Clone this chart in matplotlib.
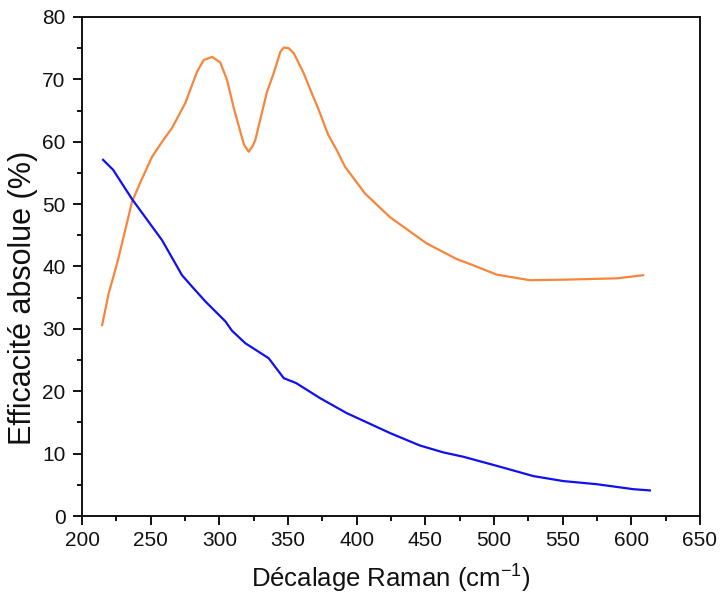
import matplotlib
matplotlib.use("Agg")
import matplotlib.pyplot as plt
from matplotlib.ticker import MultipleLocator

plt.rcParams['font.family'] = ['Liberation Sans', 'DejaVu Sans']
plt.rcParams['mathtext.fontset'] = 'custom'
plt.rcParams['mathtext.rm'] = 'Liberation Sans'
plt.rcParams['mathtext.it'] = 'Liberation Sans:italic'
plt.rcParams['mathtext.bf'] = 'Liberation Sans:bold'

# Blue curve
blue_x = [215.3, 222.6, 236.4, 258.3, 272.8, 280.0, 289.8, 304.4, 309.2, 318.9,
          335.9, 346.9, 356.0, 373.3, 392.7, 424.3, 446.1, 463.1, 477.7, 504.4,
          528.7, 550.5, 574.8, 601.5, 613.6]
blue_y = [57.1, 55.5, 50.8, 44.2, 38.6, 36.8, 34.4, 31.2, 29.7, 27.7,
          25.3, 22.1, 21.3, 18.9, 16.5, 13.3, 11.3, 10.2, 9.5, 7.9,
          6.4, 5.6, 5.1, 4.3, 4.1]

# Orange curve
orange_x = [214.6, 219.4, 225.5, 230.3, 236.4, 243.7, 251.0, 258.3, 265.5, 275.2,
            283.7, 288.6, 294.7, 300.7, 305.6, 310.5, 315.3, 318.0, 321.4, 324.5,
            326.2, 334.7, 339.6, 344.4, 346.9, 350.5, 354.2, 361.4, 368.4, 372.4,
            379.3, 385.4, 391.5, 406.1, 424.3, 451.0, 472.8, 482.5, 502.0, 526.2,
            552.9, 589.3, 608.7]
orange_y = [30.6, 35.7, 40.5, 44.8, 50.4, 54.1, 57.6, 60.0, 62.2, 66.2,
            71.2, 73.1, 73.6, 72.7, 69.9, 65.4, 61.6, 59.5, 58.4, 59.4,
            60.3, 68.0, 71.0, 74.4, 75.1, 75.0, 74.2, 71.0, 67.2, 65.1,
            61.1, 58.7, 56.0, 51.7, 47.9, 43.7, 41.2, 40.4, 38.7, 37.8,
            37.9, 38.1, 38.6]

xlabel = "Décalage Raman (cm$^{-1}$)"
ylabel = "Efficacité absolue (%)"

fig = plt.figure(figsize=(7.2, 6.0), dpi=100)
ax = fig.add_axes([0.114, 0.14, 0.858, 0.8317])

ax.plot(orange_x, orange_y, color='#F7863A', lw=1.6)
ax.plot(blue_x, blue_y, color='#1010F0', lw=1.6)

ax.set_xlim(200, 650)
ax.set_ylim(0, 80)
ax.xaxis.set_major_locator(MultipleLocator(50))
ax.xaxis.set_minor_locator(MultipleLocator(25))
ax.yaxis.set_major_locator(MultipleLocator(10))
ax.yaxis.set_minor_locator(MultipleLocator(5))
ax.tick_params(which='both', direction='out', top=False, right=False, width=1.4, colors='#111111')
ax.tick_params(which='major', length=6.5, labelsize=15, labelcolor='#111111')
ax.tick_params(axis='x', which='major', pad=4.5)
ax.tick_params(axis='y', which='major', pad=5.5)
ax.tick_params(which='minor', length=3.3)
for s in ax.spines.values():
    s.set_linewidth(1.4)
    s.set_color('#111111')

ax.set_xlabel(xlabel, fontsize=18.5, color='#111111', labelpad=9)
ax.set_ylabel(ylabel, fontsize=22, color='#111111')
ax.yaxis.set_label_coords(-0.072, 0.438)

fig.savefig("out.png", dpi=100)
